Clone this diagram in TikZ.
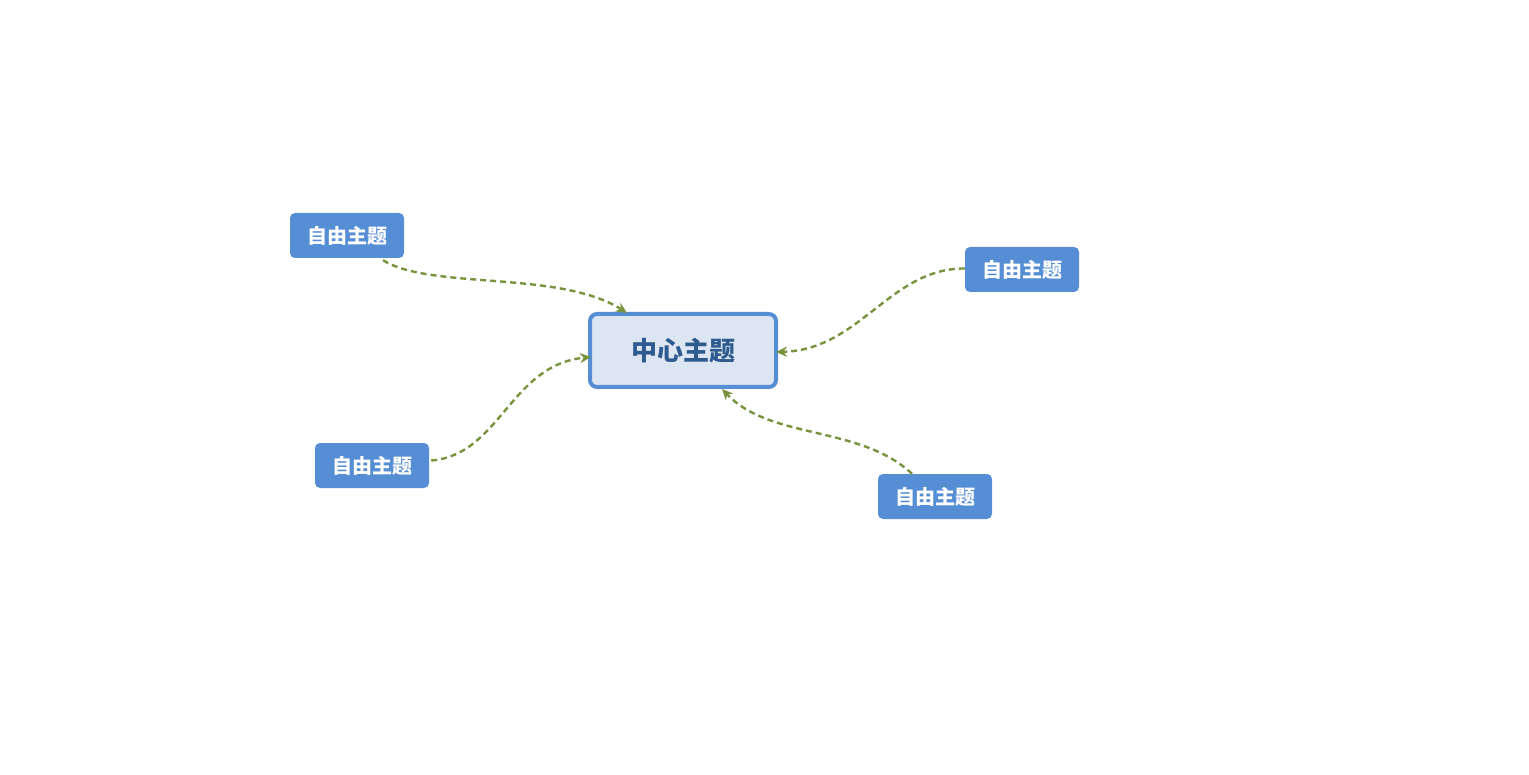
\documentclass[tikz,border=0pt]{standalone}
\usepackage{fontspec}
\setmainfont{Noto Sans CJK SC}
\usetikzlibrary{arrows.meta}
\definecolor{bl}{HTML}{558ED5}
\definecolor{cf}{HTML}{DCE6F2}
\definecolor{ct}{HTML}{2F5A8F}
\definecolor{gr}{HTML}{77933C}
\tikzset{
 topic/.style={fill=bl,text=white,rounded corners=5pt,minimum width=114pt,minimum height=45pt,inner sep=0pt,font=\fontsize{20pt}{22pt}\selectfont\bfseries},
 center/.style={fill=cf,draw=bl,line width=4pt,text=ct,rounded corners=7pt,minimum width=186pt,minimum height=73pt,inner sep=0pt,font=\fontsize{26pt}{30pt}\selectfont\bfseries},
 link/.style={draw=gr,line width=2.4pt,dash pattern=on 6pt off 4pt,-{Stealth[length=11pt,width=10pt]}}
}
\begin{document}
\begin{tikzpicture}[x=1pt,y=-1pt]
\useasboundingbox (0,0) rectangle (1529,775);
\node[center] (c) at (683,350.5) {中心主题};
\node[topic] (tl) at (347,235.5) {自由主题};
\node[topic] (r) at (1022,269.5) {自由主题};
\node[topic] (bl) at (372,465.5) {自由主题};
\node[topic] (br) at (935,496.5) {自由主题};
\coordinate (tlE) at (627,313);
\coordinate (rE) at (776,352);
\coordinate (blE) at (591,357);
\coordinate (brE) at (722,389);
\draw[link] (tl.south)++(36,2) .. controls (430,290) and (560,270) .. (tlE);
\draw[link] (r.west)++(0,-1) .. controls (890,268) and (860,350) .. (rE);
\draw[link] (bl.east)++(2,-5) .. controls (500,455) and (510,365) .. (blE);
\draw[link] (br.north)++(-23,0) .. controls (860,425) and (770,440) .. (brE);
\end{tikzpicture}
\end{document}
